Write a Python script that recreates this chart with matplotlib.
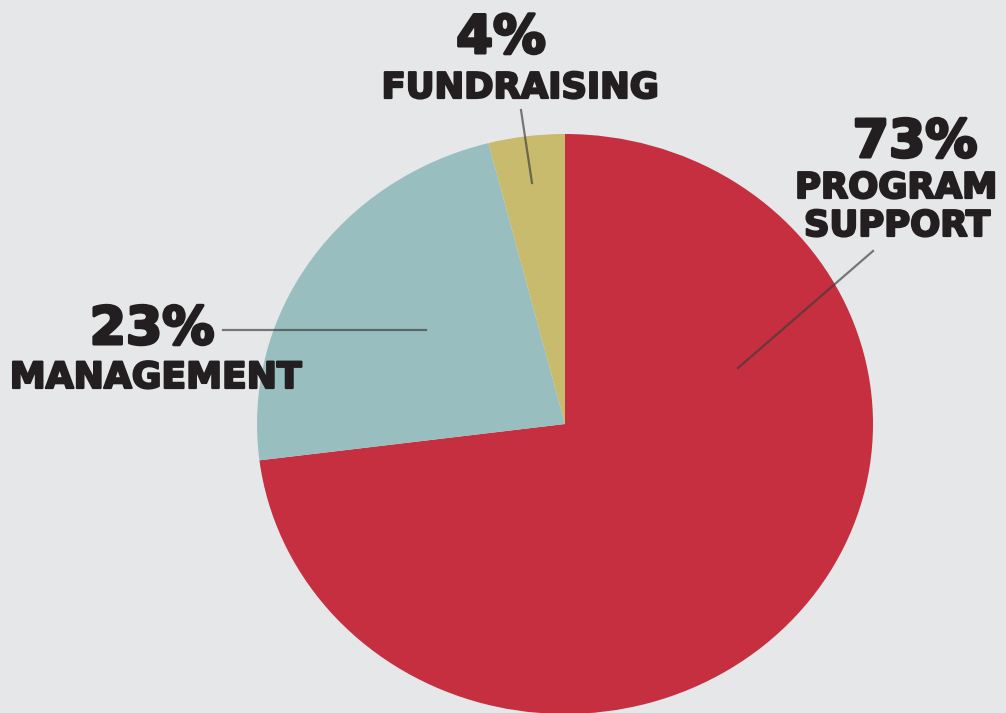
import matplotlib.pyplot as plt
import matplotlib.patheffects as pe
from matplotlib.lines import Line2D

labels = ["PROGRAM\nSUPPORT", "MANAGEMENT", "FUNDRAISING"]
shares = [73, 23, 4]
colors = ["#C62F40", "#98BEBF", "#C8BB6D"]

W, H = 1006, 713
bg = "#E6E7E8"
ink = "#231F20"

fig = plt.figure(figsize=(W / 100, H / 100), dpi=100, facecolor=bg)

# pie box in pixels (left, top, right, bottom) -> slightly elliptic like the original
px_l, px_t, px_r, px_b = 257, 134, 873, 714
ax = fig.add_axes([px_l / W, 1 - px_b / H, (px_r - px_l) / W, (px_b - px_t) / H])
ax.pie(shares, colors=colors, startangle=90, counterclock=False,
       wedgeprops=dict(linewidth=0))
ax.set_aspect("auto")
ax.set_xlim(-1, 1)
ax.set_ylim(-1, 1)
ax.axis("off")


def fx(x):
    return x / W


def fy(y):
    return 1 - y / H


def label(x, y, s, size, stroke=1.6):
    fig.text(fx(x), fy(y), s, ha="center", va="baseline", fontsize=size,
             fontweight="bold", family="DejaVu Sans", color=ink,
             path_effects=[pe.withStroke(linewidth=stroke, foreground=ink)])


def leader(x0, y0, x1, y1):
    fig.add_artist(Line2D([fx(x0), fx(x1)], [fy(y0), fy(y1)], transform=fig.transFigure,
                          color="#3a3a3a", alpha=0.65, lw=1.6))


# fundraising
label(501, 53, f"{shares[2]}%", 38, 2.2)
label(520, 98, labels[2], 25.5)
leader(521, 110, 532, 183)

# management
label(152, 344, f"{shares[1]}%", 37.5, 2.2)
label(156, 388, labels[1], 26)
leader(223, 330, 426, 330)

# program support
label(915, 157, f"{shares[0]}%", 37.5, 2.2)
prog, supp = labels[0].split("\n")
label(896, 198, prog, 25.5)
label(897, 236, supp, 25.5)
leader(873, 251, 738, 368)

fig.savefig("out.png", dpi=100, facecolor=bg)
